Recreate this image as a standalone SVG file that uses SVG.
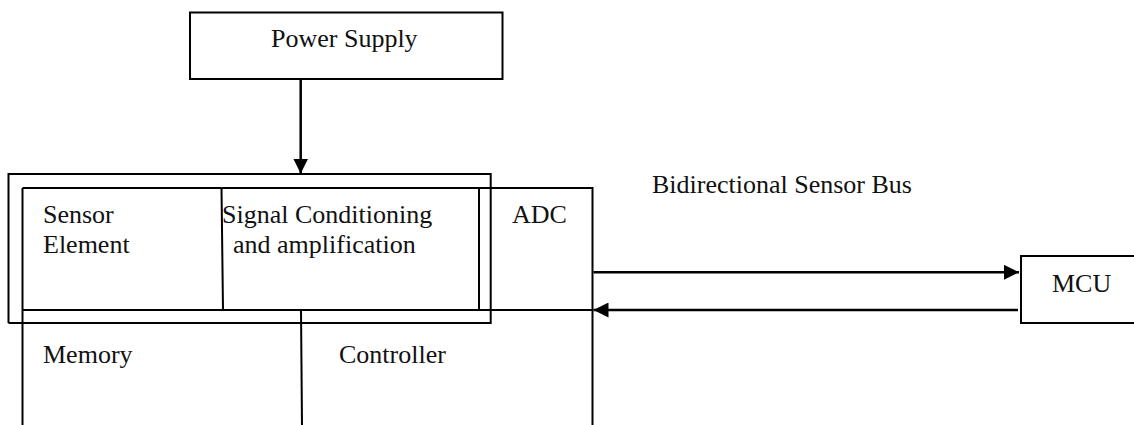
<svg xmlns="http://www.w3.org/2000/svg" width="1134" height="425" viewBox="0 0 1134 425">
  <style>
    .box { fill: none; stroke: #000; stroke-width: 2; }
    .ln { fill: none; stroke: #000; stroke-width: 2; }
    .conn { fill: none; stroke: #000; stroke-width: 2.5; }
    .t { font-family: "Liberation Serif", "Times New Roman", serif; font-size: 26px; fill: #111; }
  </style>
  <defs>
    <marker id="arrow" viewBox="0 0 15 15" refX="15" refY="7.5" markerWidth="15" markerHeight="15" markerUnits="userSpaceOnUse" orient="auto">
      <path d="M0,0 L15,7.5 L0,15 Z" fill="#000"/>
    </marker>
  </defs>
  <rect width="1134" height="425" fill="#fff"/>

  <g id="power-supply">
    <rect class="box" x="190" y="12.5" width="312.5" height="66.5"/>
    <text class="t" x="271" y="47">Power Supply</text>
  </g>

  <g id="sensor-module-outer">
    <path class="ln" d="M8.5,323 L8.5,174 L490.7,174 L490.7,323 L8.5,323"/>
  </g>

  <g id="sensor-element">
    <path class="ln" d="M22.5,188 L22.5,425"/>
    <path class="ln" d="M22.5,188 L221.5,188 M22.5,310 L223,310 M221.5,188 L223,310"/>
    <text class="t" x="43" y="223">Sensor</text>
    <text class="t" x="43" y="253">Element</text>
  </g>

  <g id="signal-conditioning">
    <path class="ln" d="M221.5,188 L479,188 L479,310 L223,310"/>
    <text class="t" x="222" y="223">Signal Conditioning</text>
    <text class="t" x="233" y="253">and amplification</text>
  </g>

  <g id="adc">
    <path class="ln" d="M479,188 L592.5,188 L592.5,425 M479,310 L592.5,310"/>
    <text class="t" x="512" y="223">ADC</text>
  </g>

  <g id="memory">
    <text class="t" x="43" y="363">Memory</text>
  </g>

  <g id="controller">
    <path class="ln" d="M301,310 L302,425"/>
    <text class="t" x="339" y="363">Controller</text>
  </g>

  <g id="mcu">
    <rect class="box" x="1021" y="256" width="130" height="67"/>
    <text class="t" x="1052" y="292">MCU</text>
  </g>

  <g id="bus-label">
    <text class="t" x="652" y="193">Bidirectional Sensor Bus</text>
  </g>

  <g id="connectors">
    <line class="conn" x1="300.7" y1="79" x2="300.7" y2="173.5" marker-end="url(#arrow)"/>
    <line class="conn" x1="593.5" y1="272.3" x2="1019" y2="272.3" marker-end="url(#arrow)"/>
    <line class="conn" x1="1018" y1="310" x2="593.5" y2="310" marker-end="url(#arrow)"/>
  </g>
</svg>
